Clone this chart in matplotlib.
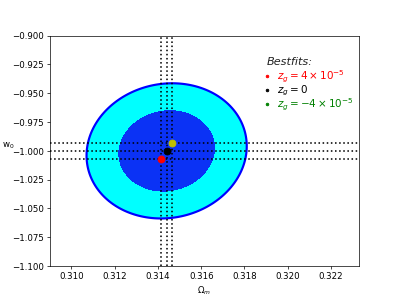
import numpy as np
import matplotlib
matplotlib.use("Agg")
import matplotlib.pyplot as plt
from matplotlib.lines import Line2D

# Fisher-forecast Gaussian parameters
mean_om = 0.31440
mean_w0 = -1.0000
sigma_om = 0.00149
sigma_w0 = 0.0236
rho = 0.07
chi2_levels = [0.0, 2.30, 6.18]

# best-fit points
bf_om = [0.31416, 0.31440, 0.31465]
bf_w0 = [-1.0074, -1.0002, -0.9929]
bf_colors = ["red", "black", "y"]
legend_title = "Bestfits:"
legend_labels = [r"$z_g = 4\times10^{-5}$", r"$z_g = 0$", r"$z_g = -4\times10^{-5}$"]
legend_colors = ["red", "black", "green"]

xticks = [0.310, 0.312, 0.314, 0.316, 0.318, 0.320, 0.322]
yticks = [-1.100, -1.075, -1.050, -1.025, -1.000, -0.975, -0.950, -0.925, -0.900]

fig, ax = plt.subplots(figsize=(6.4, 4.8), dpi=399 / 6.4)

xx, yy = np.meshgrid(np.linspace(0.305, 0.325, 600), np.linspace(-1.15, -0.85, 600))
cov = np.array([[sigma_om**2, rho * sigma_om * sigma_w0],
                [rho * sigma_om * sigma_w0, sigma_w0**2]])
icov = np.linalg.inv(cov)
dx = xx - mean_om
dy = yy - mean_w0
chi2 = icov[0, 0] * dx**2 + 2 * icov[0, 1] * dx * dy + icov[1, 1] * dy**2

ax.contourf(xx, yy, chi2, levels=chi2_levels, colors=["#0b32f5", "cyan"])
ax.contour(xx, yy, chi2, levels=[chi2_levels[2]], colors=["blue"], linewidths=2.5)

for om, w, c in zip(bf_om, bf_w0, bf_colors):
    ax.axvline(om, color="black", ls=":", lw=1.8)
    ax.axhline(w, color="black", ls=":", lw=1.8)
    ax.plot(om, w, "o", color=c, markersize=8, zorder=5)

handles = [Line2D([], [], ls="none", marker=".", color=c, markersize=6) for c in legend_colors]
leg = ax.legend(handles, legend_labels, frameon=False,
                loc="upper left", bbox_to_anchor=(0.671, 0.875), borderaxespad=0,
                handlelength=1.0, handletextpad=0.45, fontsize=12, labelspacing=-0.12)
for t, c in zip(leg.get_texts(), legend_colors):
    t.set_color(c)
ax.text(0.701, 0.8736, legend_title, transform=ax.transAxes, fontsize=13,
        style="italic", va="baseline", ha="left", color="#222222")

ax.set_xlim(0.309, 0.3233)
ax.set_ylim(-1.1, -0.9)
ax.set_xticks(xticks)
ax.set_yticks(yticks)
ax.set_xlabel(r"$\Omega_m$")
ax.set_ylabel(r"w$_0$", rotation=0)

fig.savefig("out.png", dpi=399 / 6.4)
